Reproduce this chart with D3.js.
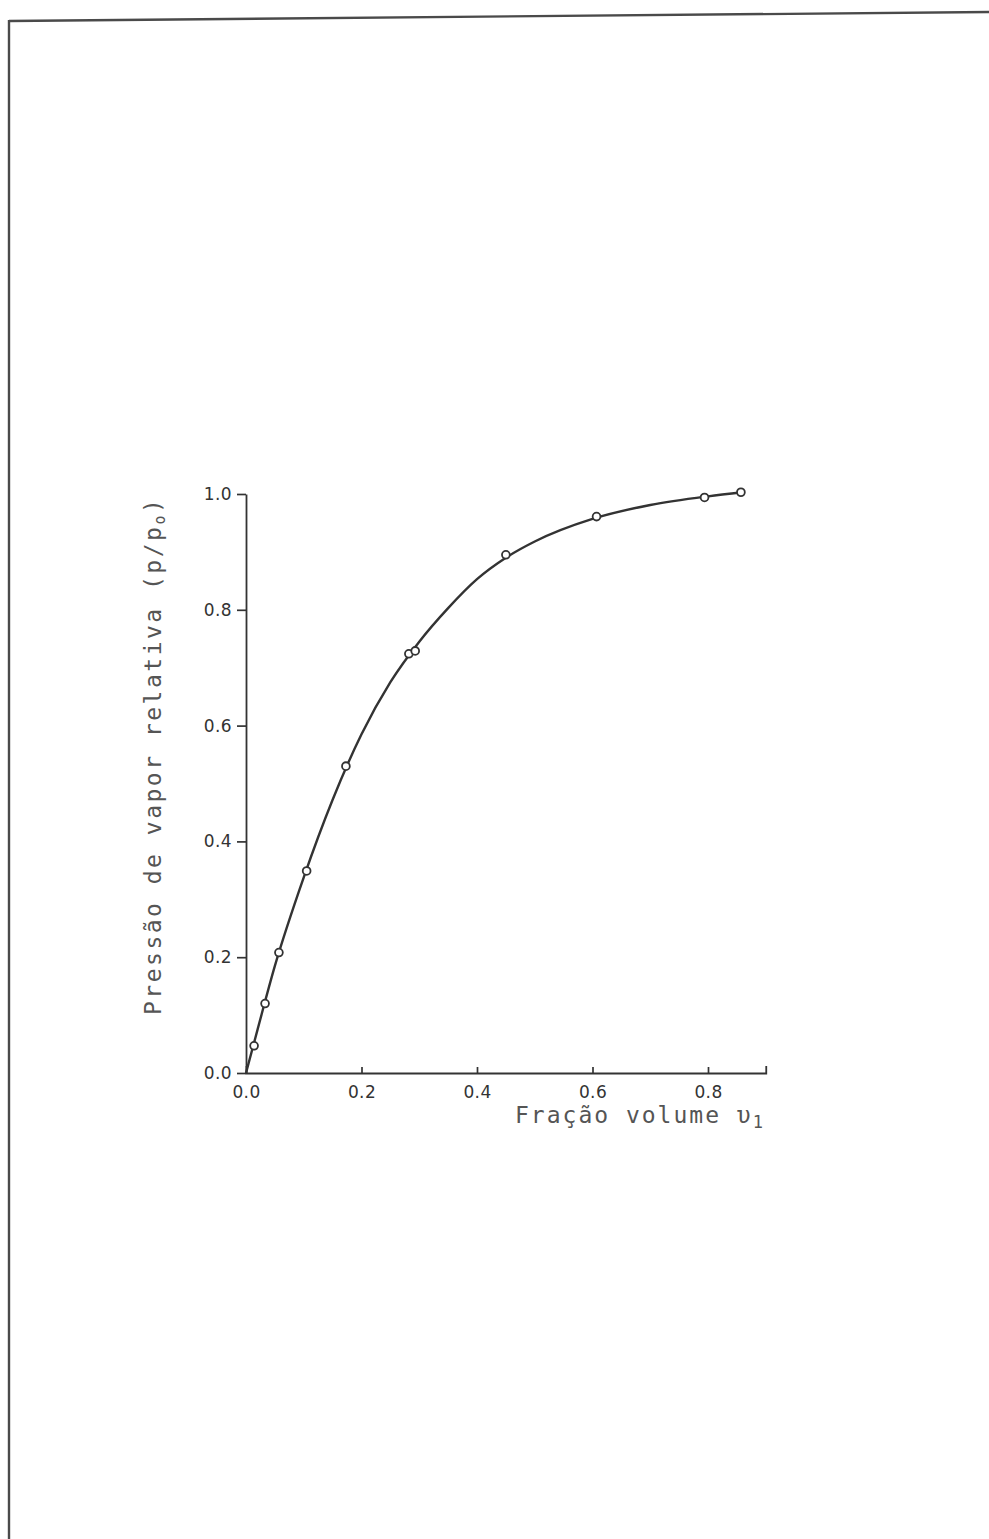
<!DOCTYPE html>
<html>
<head>
<meta charset="utf-8">
<script src="https://cdn.jsdelivr.net/npm/d3@7"></script>
<style>
  body { margin: 0; background: #fff; }
  svg { display: block; }
</style>
</head>
<body>
<svg id="chart" width="989" height="1539"></svg>
<script>
// Tick values for both axes
const xTicks = [0, 0.2, 0.4, 0.6, 0.8];
const yTicks = [0, 0.2, 0.4, 0.6, 0.8, 1.0];

// Measured points: volume fraction v1 vs relative vapour pressure p/p0
const volumeFraction   = [0.014, 0.033, 0.057, 0.105, 0.173, 0.282, 0.293, 0.450, 0.607, 0.794, 0.857];
const relativePressure = [0.047, 0.120, 0.208, 0.349, 0.530, 0.724, 0.729, 0.895, 0.961, 0.994, 1.003];

// Smooth fitted curve drawn through the data
const fitX = [0, 0.02, 0.05, 0.10, 0.15, 0.20, 0.25, 0.30, 0.35, 0.40, 0.45, 0.50, 0.60, 0.70, 0.80, 0.86];
const fitY = [0, 0.075, 0.185, 0.338, 0.472, 0.585, 0.675, 0.745, 0.803, 0.853, 0.890, 0.918, 0.957, 0.981, 0.996, 1.003];

const svg = d3.select("#chart");
const ink = "#333";

// Page frame (top and left edges of the sheet)
svg.append("line").attr("x1", 9).attr("y1", 21).attr("x2", 989).attr("y2", 12)
  .attr("stroke", "#4a4a4a").attr("stroke-width", 2.4);
svg.append("line").attr("x1", 9).attr("y1", 20).attr("x2", 9).attr("y2", 1539)
  .attr("stroke", "#4a4a4a").attr("stroke-width", 2.4);

const x = d3.scaleLinear().domain([0, 0.9]).range([246, 765.75]);
const y = d3.scaleLinear().domain([0, 1]).range([1073, 494]);
const fmt = d3.format(".1f");

// Y axis: ticks point outwards
const yAxis = svg.append("g")
  .attr("transform", `translate(${x(0)},0)`)
  .call(d3.axisLeft(y).tickValues(yTicks).tickFormat(fmt).tickSize(9).tickSizeOuter(0).tickPadding(5));

// X axis: short ticks point inwards, closing tick at the far end
const xAxis = svg.append("g")
  .attr("transform", `translate(0,${y(0)})`)
  .call(d3.axisBottom(x).tickValues(xTicks).tickFormat(fmt).tickSize(-6).tickSizeOuter(-7).tickPadding(13));

[yAxis, xAxis].forEach(g => {
  g.select(".domain").attr("stroke", ink).attr("stroke-width", 1.8);
  g.selectAll(".tick line").attr("stroke", ink).attr("stroke-width", 1.7);
  g.selectAll(".tick text")
    .attr("fill", "#333")
    .style("font-family", "'DejaVu Sans', sans-serif")
    .style("font-size", "17px")
    .style("letter-spacing", "0.4px");
});
xAxis.selectAll(".tick").filter(d => d === 0).select("line").remove();

// Fitted curve
const line = d3.line()
  .x(d => x(d[0]))
  .y(d => y(d[1]))
  .curve(d3.curveMonotoneX);
svg.append("path")
  .datum(fitX.map((v, i) => [v, fitY[i]]))
  .attr("d", line)
  .attr("fill", "none")
  .attr("stroke", ink)
  .attr("stroke-width", 2.4);

// Data markers (open circles)
svg.append("g").selectAll("circle")
  .data(volumeFraction.map((v, i) => [v, relativePressure[i]]))
  .join("circle")
  .attr("cx", d => x(d[0]))
  .attr("cy", d => y(d[1]))
  .attr("r", 3.9)
  .attr("fill", "#fff")
  .attr("stroke", ink)
  .attr("stroke-width", 1.8);

// Axis titles (typewriter face)
const titleFont = "'DejaVu Sans Mono', monospace";
const xTitle = svg.append("text")
  .attr("x", 515).attr("y", 1123)
  .attr("fill", "#555")
  .style("font-family", titleFont)
  .style("font-size", "23px")
  .style("letter-spacing", "2.0px");
xTitle.append("tspan").text("Fração volume υ");
xTitle.append("tspan").attr("dy", 5).style("font-size", "17px").text("1");

const yTitle = svg.append("text")
  .attr("transform", "translate(161,1015) rotate(-90)")
  .attr("fill", "#555")
  .style("font-family", titleFont)
  .style("font-size", "23px")
  .style("letter-spacing", "2.5px");
yTitle.append("tspan").text("Pressão de vapor relativa (p/p");
yTitle.append("tspan").attr("dy", 4).style("font-size", "15px").text("o");
yTitle.append("tspan").attr("dy", -4).text(")");
</script>
</body>
</html>
